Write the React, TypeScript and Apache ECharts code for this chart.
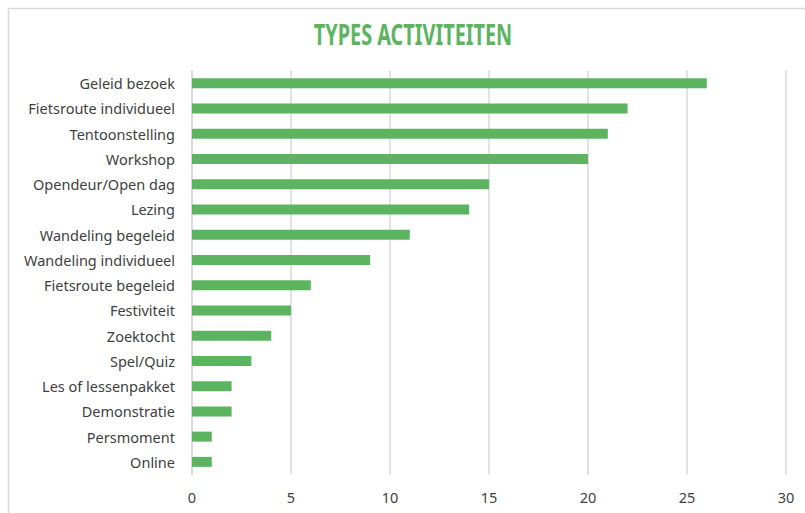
import React, { useEffect, useRef } from "react";
import * as echarts from "echarts";

const categories = [
  "Geleid bezoek",
  "Fietsroute individueel",
  "Tentoonstelling",
  "Workshop",
  "Opendeur/Open dag",
  "Lezing",
  "Wandeling begeleid",
  "Wandeling individueel",
  "Fietsroute begeleid",
  "Festiviteit",
  "Zoektocht",
  "Spel/Quiz",
  "Les of lessenpakket",
  "Demonstratie",
  "Persmoment",
  "Online",
];
const values = [26, 22, 21, 20, 15, 14, 11, 9, 6, 5, 4, 3, 2, 2, 1, 1];
const title = "TYPES ACTIVITEITEN";

export default function App() {
  const ref = useRef<HTMLDivElement>(null);
  useEffect(() => {
    if (!ref.current) return;
    const chart = echarts.init(ref.current, null, { renderer: "svg" });
    chart.setOption({
      animation: false,
      backgroundColor: "#ffffff",
      graphic: [
        { type: "line", shape: { x1: 8, y1: 8.5, x2: 805, y2: 8.5 }, style: { stroke: "#d9d9d9", lineWidth: 1.5 } },
        { type: "line", shape: { x1: 8.5, y1: 8, x2: 8.5, y2: 513 }, style: { stroke: "#d9d9d9", lineWidth: 1.5 } },
        {
          type: "text",
          x: 413,
          y: 34,
          scaleX: 0.71,
          style: {
            text: title,
            x: 0,
            y: 0,
            align: "center",
            verticalAlign: "middle",
            fill: "#5cb461",
            font: "bold 28px 'Noto Sans'",
          },
        },
      ],
      grid: { left: 192, right: 19, top: 70.5, bottom: 38.5 },
      xAxis: {
        type: "value",
        min: 0,
        max: 30,
        interval: 5,
        axisLine: { show: false },
        axisTick: { show: false },
        splitLine: { lineStyle: { color: "#d9d9d9", width: 1.5 } },
        axisLabel: { color: "#404040", fontSize: 14.5, margin: 15, fontFamily: "Noto Sans" },
      },
      yAxis: {
        type: "category",
        data: categories,
        inverse: true,
        axisLine: { show: true, lineStyle: { color: "#d9d9d9", width: 1.5 } },
        axisTick: { show: false },
        axisLabel: { color: "#404040", fontSize: 14.5, margin: 17, fontFamily: "Noto Sans" },
      },
      series: [
        {
          type: "bar",
          data: values,
          barWidth: 10,
          itemStyle: { color: "#5cb461" },
        },
      ],
    });
    return () => chart.dispose();
  }, []);
  return (
    <div
      ref={ref}
      style={{ position: "absolute", left: 0, top: 0, width: 805, height: 513 }}
    />
  );
}
